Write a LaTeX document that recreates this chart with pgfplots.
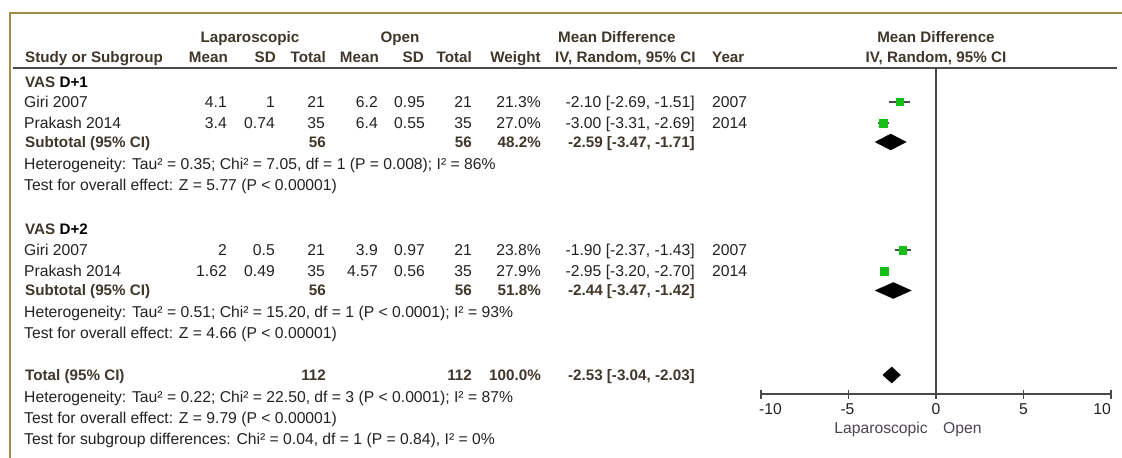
\documentclass[border=0pt]{standalone}
\usepackage{pgfplots}
\pgfplotsset{compat=1.18}
\usepackage{fontspec}
\setmainfont{Liberation Sans}
\definecolor{txt}{HTML}{222222}
\definecolor{bld}{HTML}{40362A}
\definecolor{frame}{HTML}{A58C46}
\definecolor{sq}{HTML}{14BE14}
\definecolor{ci}{HTML}{4A4A4A}
\definecolor{fav}{HTML}{4C4452}
\newcommand\rf{\fontsize{15.7bp}{18bp}\selectfont}
\newcommand\bfnt{\fontsize{15.2bp}{18bp}\selectfont\bfseries}
\tikzset{
  r/.style={inner sep=0pt, text height=11.2bp, text depth=0pt, font=\rf, text=txt},
  b/.style={inner sep=0pt, text height=10.9bp, text depth=0pt, font=\bfnt, text=bld},
}
\begin{document}
\begin{tikzpicture}
\path[use as bounding box] (0,0) rectangle (1122bp,-458bp);
\begin{axis}[
  at={(761bp,-394bp)}, anchor=south west,
  scale only axis, width=350bp, height=326bp,
  xmin=-10, xmax=10, ymin=-394, ymax=-68,
  axis x line*=bottom, axis y line=none,
  axis line style={draw=ci, line width=1.3bp, -},
  xtick={-10,-5,0,5,10}, xticklabels={},
  tick align=center, major tick length=9bp,
  tick style={draw=ci, line width=1.3bp},
  clip=false,
]
% zero line
\addplot[ci, line width=1.3bp] coordinates {(0,-68) (0,-394)};
% VAS D+1
\addplot[ci, line width=1.5bp] coordinates {(-2.69,-102) (-1.51,-102)};
\addplot[only marks, mark=square*, mark size=3.5bp, mark options={fill=sq, draw=sq}] coordinates {(-2.10,-102)};
\addplot[ci, line width=1.5bp] coordinates {(-3.31,-123) (-2.69,-123)};
\addplot[only marks, mark=square*, mark size=3.9bp, mark options={fill=sq, draw=sq}] coordinates {(-3.00,-123)};
\addplot[fill=black, draw=black] coordinates {(-3.47,-142) (-2.59,-134) (-1.71,-142) (-2.59,-150)} -- cycle;
% VAS D+2
\addplot[ci, line width=1.5bp] coordinates {(-2.37,-250) (-1.43,-250)};
\addplot[only marks, mark=square*, mark size=3.7bp, mark options={fill=sq, draw=sq}] coordinates {(-1.90,-250)};
\addplot[ci, line width=1.5bp] coordinates {(-3.20,-271) (-2.70,-271)};
\addplot[only marks, mark=square*, mark size=4.1bp, mark options={fill=sq, draw=sq}] coordinates {(-2.95,-271)};
\addplot[fill=black, draw=black] coordinates {(-3.47,-290.5) (-2.44,-282.5) (-1.42,-290.5) (-2.44,-298.5)} -- cycle;
% Total
\addplot[fill=black, draw=black] coordinates {(-3.04,-375) (-2.53,-367) (-2.03,-375) (-2.53,-383)} -- cycle;
\end{axis}
\begin{scope}[x=1bp,y=-1bp]
% frame
\draw[frame, line width=1.8bp] (10,458) -- (10,12.7) -- (1122,12.7);
% header rule
\draw[ci, line width=1.3bp] (12.7,68) -- (1117,68);
% header row 1
\node[b] at (250,37) {Laparoscopic};
\node[b] at (400,37) {Open};
\node[b, anchor=west] at (558,37) {Mean Difference};
\node[b] at (936,37) {Mean Difference};
% header row 2
\node[b, anchor=west] at (25,57.3) {Study or Subgroup};
\node[b, anchor=east] at (228,57.3) {Mean};
\node[b, anchor=east] at (276,57.3) {SD};
\node[b, anchor=east] at (326,57.3) {Total};
\node[b, anchor=east] at (379,57.3) {Mean};
\node[b, anchor=east] at (424,57.3) {SD};
\node[b, anchor=east] at (472,57.3) {Total};
\node[b, anchor=east] at (541,57.3) {Weight};
\node[b, anchor=west] at (555,57.3) {IV, Random, 95\% CI};
\node[b, anchor=west] at (712,57.3) {Year};
\node[b] at (936,57.3) {IV, Random, 95\% CI};
% VAS D+1
\node[b, anchor=west] at (25,82.5) {VAS \textcolor{black}{D+1}};
\foreach \y/\s/\a/\b/\c/\d/\e/\f/\w/\md/\yr in {
  102/Giri 2007/4.1/1/21/6.2/0.95/21/21.3\%/{-2.10 [-2.69, -1.51]}/2007,
  123/Prakash 2014/3.4/0.74/35/6.4/0.55/35/27.0\%/{-3.00 [-3.31, -2.69]}/2014,
  250/Giri 2007/2/0.5/21/3.9/0.97/21/23.8\%/{-1.90 [-2.37, -1.43]}/2007,
  271/Prakash 2014/1.62/0.49/35/4.57/0.56/35/27.9\%/{-2.95 [-3.20, -2.70]}/2014}{
  \node[r, anchor=west] at (24,\y) {\s};
  \node[r, anchor=east] at (227,\y) {\a};
  \node[r, anchor=east] at (275,\y) {\b};
  \node[r, anchor=east] at (325,\y) {\c};
  \node[r, anchor=east] at (378,\y) {\d};
  \node[r, anchor=east] at (425,\y) {\e};
  \node[r, anchor=east] at (472,\y) {\f};
  \node[r, anchor=east] at (541,\y) {\w};
  \node[r, anchor=east] at (695,\y) {\md};
  \node[r, anchor=west] at (712,\y) {\yr};
}
% subtotal 1
\node[b, anchor=west] at (25,142) {Subtotal (95\% CI)};
\node[b, anchor=east] at (326,142) {56};
\node[b, anchor=east] at (472,142) {56};
\node[b, anchor=east] at (541,142) {48.2\%};
\node[b, anchor=east] at (695,142) {-2.59 [-3.47, -1.71]};
\node[r, anchor=west] at (24,164) {Heterogeneity: Tau² = 0.35; Chi² = 7.05, df = 1 (P = 0.008); I² = 86\%};
\node[r, anchor=west] at (24,185) {Test for overall effect: Z = 5.77 (P < 0.00001)};
% VAS D+2
\node[b, anchor=west] at (25,229) {VAS \textcolor{black}{D+2}};
\node[b, anchor=west] at (25,290.5) {Subtotal (95\% CI)};
\node[b, anchor=east] at (326,290.5) {56};
\node[b, anchor=east] at (472,290.5) {56};
\node[b, anchor=east] at (541,290.5) {51.8\%};
\node[b, anchor=east] at (695,290.5) {-2.44 [-3.47, -1.42]};
\node[r, anchor=west] at (24,312) {Heterogeneity: Tau² = 0.51; Chi² = 15.20, df = 1 (P < 0.0001); I² = 93\%};
\node[r, anchor=west] at (24,333) {Test for overall effect: Z = 4.66 (P < 0.00001)};
% Total
\node[b, anchor=west] at (25,375) {Total (95\% CI)};
\node[b, anchor=east] at (326,375) {112};
\node[b, anchor=east] at (472,375) {112};
\node[b, anchor=east] at (541,375) {100.0\%};
\node[b, anchor=east] at (695,375) {-2.53 [-3.04, -2.03]};
\node[r, anchor=west] at (24,397) {Heterogeneity: Tau² = 0.22; Chi² = 22.50, df = 3 (P < 0.0001); I² = 87\%};
\node[r, anchor=west] at (24,418) {Test for overall effect: Z = 9.79 (P < 0.00001)};
\node[r, anchor=west] at (24,439) {Test for subgroup differences: Chi² = 0.04, df = 1 (P = 0.84), I² = 0\%};
% axis tick labels
\node[r, anchor=west] at (759,409.3) {-10};
\node[r] at (847.5,409.3) {-5};
\node[r] at (936,409.3) {0};
\node[r] at (1023.5,409.3) {5};
\node[r, anchor=east] at (1111,409.3) {10};
\node[r, anchor=east, text=fav] at (928,428) {Laparoscopic};
\node[r, anchor=west, text=fav] at (943,428) {Open};
\end{scope}
\end{tikzpicture}
\end{document}
